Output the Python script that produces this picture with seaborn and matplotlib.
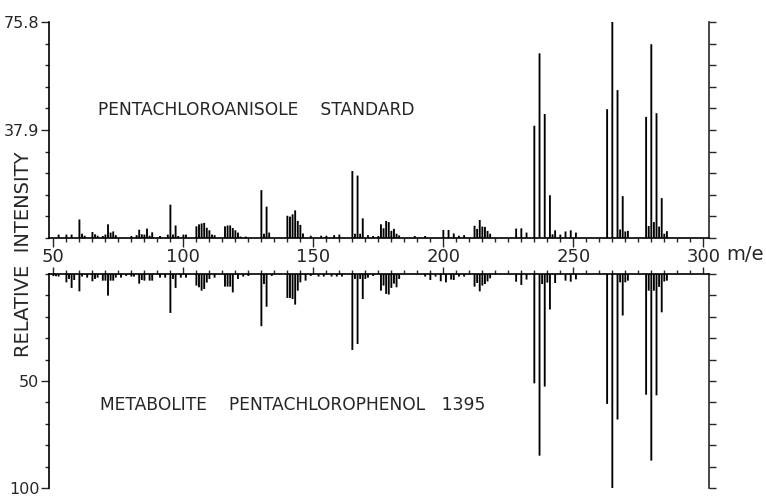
import numpy as np
import matplotlib
matplotlib.use('Agg')
import matplotlib.pyplot as plt
from matplotlib import font_manager
import seaborn as sns

# pentachloroanisole standard (upper trace), intensity on the 0-75.8 scale
std_mz = [52, 55, 57, 60, 61, 62, 65, 66, 67, 69, 70, 71, 72, 73, 74,
          80, 82, 83, 84, 85, 86, 87, 88, 91, 94, 95, 96, 97, 98, 100, 101,
          105, 106, 107, 108, 109, 110, 111, 112, 116, 117, 118, 119, 120, 121,
          122, 124, 130, 131, 132, 133, 140, 141, 142, 143, 144, 145, 146,
          149, 153, 155, 158, 160, 165, 166, 167, 168, 169, 171, 173, 175,
          176, 177, 178, 179, 180, 181, 182, 183, 189, 193, 200, 202, 204,
          206, 208, 212, 213, 214, 215, 216, 217, 218, 228, 230, 232,
          235, 237, 239, 241, 242, 243, 245, 247, 249, 251,
          263, 265, 267, 268, 269, 270, 271,
          278, 279, 280, 281, 282, 283, 284, 285, 286]
std_int = [1.2, 1.2, 1.2, 6.5, 1.5, 0.8, 2.1, 1.3, 0.8, 0.7, 1.2, 4.8, 1.9, 2.3, 1.0,
           0.7, 1.0, 2.9, 1.3, 1.2, 3.3, 0.8, 2.0, 0.7, 1.2, 11.7, 1.2, 4.4, 0.7, 1.2, 1.2,
           4.1, 4.8, 5.1, 5.3, 3.6, 2.7, 1.2, 1.0, 4.1, 4.4, 4.4, 3.5, 2.7, 1.9,
           0.5, 0.5, 16.8, 1.5, 11.0, 1.9, 7.8, 7.5, 8.3, 9.7, 6.0, 4.6, 1.6,
           0.8, 0.8, 0.8, 1.0, 1.2, 23.5, 1.5, 21.9, 1.5, 6.9, 1.0, 0.7, 0.7,
           4.8, 3.4, 6.0, 5.6, 2.5, 3.2, 1.5, 0.9, 0.7, 0.7, 2.8, 2.8, 1.6,
           0.8, 1.0, 4.3, 3.2, 6.3, 4.0, 3.9, 2.5, 1.5, 3.3, 3.4, 1.9,
           39.4, 64.8, 43.5, 15.0, 1.3, 2.7, 1.2, 2.3, 2.7, 1.9,
           45.2, 75.8, 51.9, 3.0, 14.7, 2.3, 2.5,
           42.5, 4.2, 68.0, 5.6, 43.8, 4.0, 14.0, 1.5, 2.4]

# metabolite pentachlorophenol 1395 (lower trace), % of base peak
met_mz = [50, 51, 52, 55, 56, 57, 58, 60, 61, 63, 65, 66, 67, 69, 70, 71, 72, 73, 74,
          76, 78, 80, 81, 83, 84, 85, 87, 88, 91, 93, 95, 96, 97, 99, 101,
          105, 106, 107, 108, 109, 110, 112, 116, 117, 118, 119, 121, 123, 125,
          130, 131, 132, 134, 140, 141, 142, 143, 144, 145, 147, 149,
          152, 154, 157, 159, 161, 165, 166, 167, 168, 169, 170, 171, 173,
          176, 177, 178, 179, 180, 181, 182, 183, 193, 195, 197, 199, 201,
          203, 204, 206, 208, 212, 213, 214, 215, 216, 217, 218, 228, 230, 232,
          235, 237, 238, 239, 240, 241, 243, 247, 249, 251,
          263, 265, 267, 268, 269, 270, 271,
          278, 279, 280, 281, 282, 283, 284, 285, 286]
met_int = [1.0, 1.0, 1.2, 3.9, 2.3, 6.5, 2.8, 8.1, 1.2, 1.7, 3.4, 2.3, 1.7, 3.1, 3.1, 10.1, 3.1, 3.1, 1.7,
           1.7, 0.9, 1.2, 1.2, 4.5, 2.8, 3.1, 3.1, 3.1, 1.7, 1.7, 18.2, 2.3, 6.5, 1.7, 1.7,
           5.4, 6.2, 7.8, 7.0, 4.0, 2.3, 1.7, 5.9, 5.9, 5.9, 8.6, 2.3, 1.2, 0.9,
           24.4, 4.7, 15.3, 0.9, 11.2, 11.2, 11.7, 14.3, 7.8, 3.9, 3.1, 0.9,
           1.2, 1.2, 1.2, 1.2, 1.2, 35.5, 2.3, 32.7, 2.3, 11.7, 2.3, 1.7, 0.9,
           7.8, 5.4, 9.3, 9.6, 6.5, 4.5, 6.2, 2.3, 1.2, 2.8, 1.2, 3.4, 3.9,
           2.6, 2.8, 1.2, 1.2, 5.9, 4.2, 8.1, 5.4, 4.7, 3.5, 2.0, 3.6, 5.1, 2.6,
           51.1, 84.9, 4.7, 52.6, 4.0, 16.6, 4.2, 3.1, 3.6, 2.5,
           60.7, 100.0, 68.0, 3.9, 19.4, 3.9, 3.1,
           56.4, 7.8, 87.2, 7.8, 56.7, 6.0, 17.9, 3.5, 3.1]

top_max = 75.8
bot_max = 100
x_lo, x_hi = 48.3, 302

sns.set_style('ticks')
names = {f.name for f in font_manager.fontManager.ttflist}
family = 'Liberation Sans Narrow' if 'Liberation Sans Narrow' in names else 'DejaVu Sans'
plt.rcParams['font.family'] = family

W, H = 766, 496
fig = plt.figure(figsize=(W / 100, H / 100), dpi=100)
ax_top = fig.add_axes([49 / W, 1 - 238 / H, 659.5 / W, 216 / H])
ax_bot = fig.add_axes([49 / W, 8 / H, 659.5 / W, 214 / H])

for ax, mz, inten in [(ax_top, std_mz, std_int), (ax_bot, met_mz, met_int)]:
    sns.barplot(x=mz, y=inten, native_scale=True, width=0.72, color='black',
                saturation=1, linewidth=0, errorbar=None, ax=ax)
    # no pixel snapping, so every line comes out the same width
    for p in ax.patches:
        p.set_snap(False)
    ax.set_xlim(x_lo, x_hi)
    ax.set_xlabel('')
    ax.set_ylabel('')
    ax.set_xticks(range(50, 301, 50))
    ax.set_xticks(range(50, 301, 5), minor=True)
    for s in ax.spines.values():
        s.set_linewidth(1.2)
        s.set_color('black')
    ax.spines['right'].set_visible(False)

# upper trace
ax_top.set_ylim(0, top_max)
ax_top.spines['top'].set_visible(False)
ax_top.set_yticks([37.9, 75.8])
ax_top.set_yticklabels(['37.9', '75.8'])
ax_top.set_yticks(np.linspace(0, top_max, 11), minor=True)
ax_top.tick_params(axis='y', which='major', direction='out', length=6, width=1, labelsize=11.5, pad=1)
ax_top.tick_params(axis='y', which='minor', direction='out', length=3, width=1)
ax_top.tick_params(axis='x', which='major', direction='out', length=6.5, width=1, labelsize=13, pad=0.5)
ax_top.tick_params(axis='x', which='minor', direction='out', length=3, width=1)
sec = ax_top.secondary_yaxis('right')
sec.set_yticks(np.linspace(0, top_max, 11))
sec.set_yticklabels([])
sec.tick_params(direction='out', length=4.8, width=1)
sec.spines['right'].set_linewidth(1.2)

# lower trace, hanging down from its own baseline
ax_bot.set_ylim(bot_max, 0)
ax_bot.spines['bottom'].set_visible(False)
ax_bot.xaxis.tick_top()
ax_bot.set_yticks([50, 100])
ax_bot.set_yticklabels(['50', '100'])
ax_bot.set_yticks(np.arange(0, 101, 10), minor=True)
ax_bot.tick_params(axis='y', which='major', direction='out', length=6, width=1, labelsize=11.5, pad=1)
ax_bot.tick_params(axis='y', which='minor', direction='out', length=3, width=1)
ax_bot.tick_params(axis='x', which='major', direction='out', length=5, width=1, labeltop=False, labelbottom=False)
ax_bot.tick_params(axis='x', which='minor', direction='out', length=3, width=1)
sec2 = ax_bot.secondary_yaxis('right')
sec2.set_yticks(np.arange(0, 101, 10))
sec2.set_yticklabels([])
sec2.tick_params(direction='out', length=4.8, width=1)
sec2.spines['right'].set_linewidth(1.2)

fig.text(24 / W, 1 - 254 / H, 'RELATIVE  INTENSITY', rotation=90,
         ha='center', va='center', fontsize=14)
fig.text(745 / W, 1 - 255 / H, 'm/e', ha='center', va='center', fontsize=14)
fig.text(98 / W, 1 - 110 / H, 'PENTACHLOROANISOLE    STANDARD',
         ha='left', va='center', fontsize=12.3)
fig.text(100 / W, 1 - 405 / H, 'METABOLITE    PENTACHLOROPHENOL   1395',
         ha='left', va='center', fontsize=12.3)

fig.savefig('out.png', dpi=100)
